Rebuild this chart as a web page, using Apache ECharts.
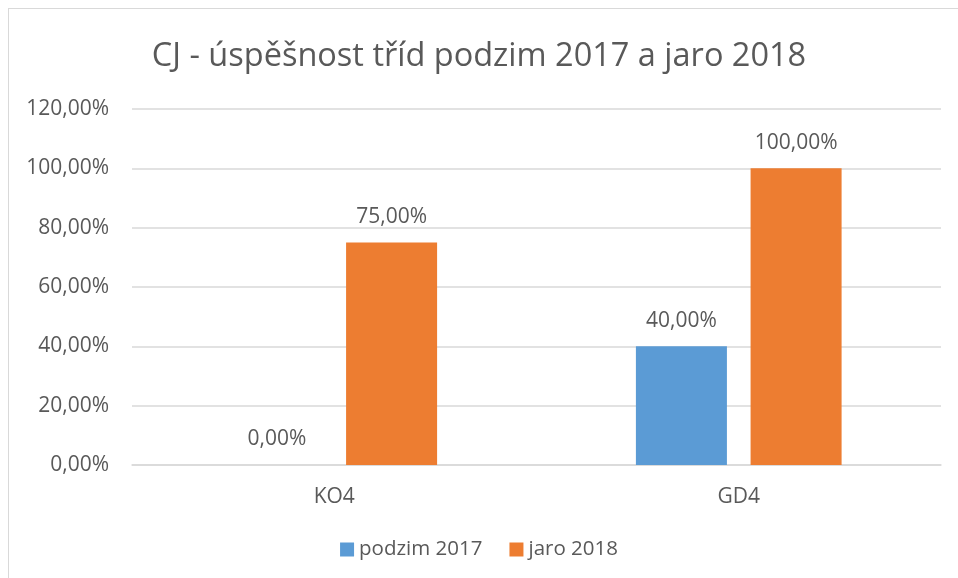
<!DOCTYPE html>
<html>
<head>
<meta charset="utf-8">
<script src="https://cdn.jsdelivr.net/npm/echarts@6/dist/echarts.min.js"></script>
<style>
  html, body { margin: 0; padding: 0; background: #fff; }
  #frame { position: absolute; left: 8px; top: 8px; width: 970px; height: 600px; border: 1px solid #d9d9d9; }
  #chart { position: absolute; left: 0; top: 0; width: 958px; height: 578px; }
</style>
</head>
<body>
<div id="frame"></div>
<div id="chart"></div>
<script>
// data
const categories = ['KO4', 'GD4']
const seriesNames = ['podzim 2017', 'jaro 2018']
const podzim2017 = [0, 40]
const jaro2018 = [75, 100]

const fontFamily = '"Open Sans", "Noto Sans", sans-serif'
const textColor = '#595959'

// cisla ve formatu 75,00%
function pct(v) {
  return v.toFixed(2).replace('.', ',') + '%'
}

const myChart = echarts.init(document.getElementById('chart'))

const labelStyle = {
  show: true,
  position: 'top',
  distance: 15,
  color: textColor,
  fontSize: 21,
  fontFamily: fontFamily,
  formatter: function (p) { return pct(p.value) }
}

const option = {
  animation: false,
  title: {
    text: 'CJ - úspěšnost tříd podzim 2017 a jaro 2018',
    left: 'center',
    top: 35,
    textStyle: {
      color: textColor,
      fontSize: 32.5,
      fontWeight: 'normal',
      fontFamily: fontFamily
    }
  },
  legend: {
    bottom: 13,
    left: 'center',
    itemWidth: 14,
    itemHeight: 14,
    itemGap: 27,
    icon: 'rect',
    textStyle: { color: textColor, fontSize: 20.5, fontFamily: fontFamily },
    data: seriesNames
  },
  grid: {
    left: 132,
    right: 17,
    top: 109,
    bottom: 113
  },
  xAxis: {
    type: 'category',
    data: categories,
    axisLine: { lineStyle: { color: '#d9d9d9', width: 1.5 } },
    axisTick: { show: false },
    axisLabel: { color: textColor, fontSize: 21, fontFamily: fontFamily, margin: 22 }
  },
  yAxis: {
    type: 'value',
    min: 0,
    max: 120,
    interval: 20,
    axisLine: { show: false },
    axisTick: { show: false },
    splitLine: { lineStyle: { color: '#d9d9d9', width: 1.5 } },
    axisLabel: {
      color: textColor,
      fontSize: 21,
      fontFamily: fontFamily,
      margin: 23,
      formatter: function (v) { return pct(v) }
    }
  },
  series: [
    {
      name: seriesNames[0],
      type: 'bar',
      data: podzim2017,
      barWidth: '22.5%',
      barGap: '26%',
      itemStyle: { color: '#5b9bd5' },
      label: labelStyle
    },
    {
      name: seriesNames[1],
      type: 'bar',
      data: jaro2018,
      barWidth: '22.5%',
      barGap: '26%',
      itemStyle: { color: '#ed7d31' },
      label: labelStyle
    }
  ]
}

myChart.setOption(option)

window.addEventListener('resize', function () {
  myChart.resize()
})
</script>
</body>
</html>
